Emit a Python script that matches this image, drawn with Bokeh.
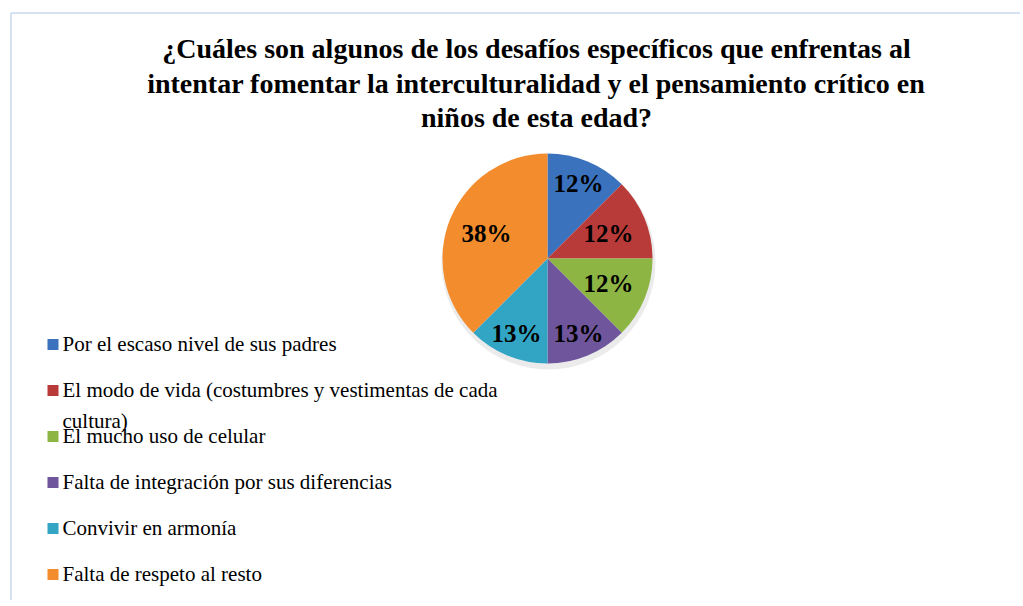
import math
from bokeh.plotting import figure
from bokeh.models import Range1d
from bokeh.core.properties import value
from bokeh.embed import file_html
from bokeh.resources import INLINE

# ---- data ----
categories = [
    "Por el escaso nivel de sus padres",
    "El modo de vida (costumbres y vestimentas de cada\ncultura)",
    "El mucho uso de celular",
    "Falta de integración por sus diferencias",
    "Convivir en armonía",
    "Falta de respeto al resto",
]
counts = [1, 1, 1, 1, 1, 3]
pct_labels = ["12%", "12%", "12%", "13%", "13%", "38%"]
colors = ["#3a72bd", "#b93b39", "#8db544", "#6e559c", "#32a5c4", "#f38c2c"]
title_lines = [
    "¿Cuáles son algunos de los desafíos específicos que enfrentas al",
    "intentar fomentar la interculturalidad y el pensamiento crítico en",
    "niños de esta edad?",
]

W, H = 1020, 600
OFF = 0  # observed page offset of the figure
SERIF = value("'Liberation Serif', 'Times New Roman', Times, serif")


def fy(page_y):
    """page pixel y -> data y"""
    return H - (page_y - OFF)


def fx(page_x):
    return page_x - OFF


p = figure(width=W, height=H, output_backend="svg", toolbar_location=None,
           x_range=Range1d(0, W), y_range=Range1d(0, H), min_border=0)
p.axis.visible = False
p.grid.visible = False
p.outline_line_color = None
p.background_fill_color = "white"
p.border_fill_color = "white"

# chart area border (top and left edges visible)
p.line([fx(10.5), fx(10.5)], [fy(12.5), 0], line_color="#c6d9f1", line_width=1.5)
p.line([fx(10.5), W], [fy(12.5), fy(12.5)], line_color="#c6d9f1", line_width=1.5)

# title
p.text(x=[fx(536)] * 3, y=[fy(48), fy(83), fy(117)], text=title_lines,
       text_font=SERIF, text_font_style="bold", text_font_size="28px",
       text_align="center", text_baseline="middle", text_color="#000000")

# pie
cx, cy, R = fx(547), fy(258), 105
total = sum(counts)
starts, ends, lx, ly = [], [], [], []
cum = 0
for c in counts:
    a0 = math.pi / 2 - 2 * math.pi * cum / total
    cum += c
    a1 = math.pi / 2 - 2 * math.pi * cum / total
    starts.append(a1)
    ends.append(a0)
    mid = (a0 + a1) / 2
    r = R * (0.60 + 0.20 * math.sin(mid) ** 2)
    lx.append(cx + r * math.cos(mid))
    ly.append(cy + r * math.sin(mid))

# soft shadow
p.circle(x=[cx + 1], y=[cy - 4], radius=R + 2, fill_color="#000000",
         fill_alpha=0.08, line_color=None)
p.wedge(x=cx, y=cy, radius=R, start_angle=starts, end_angle=ends,
        direction="anticlock", fill_color=colors, line_color=None)
p.text(x=lx, y=ly, text=pct_labels, text_font=SERIF, text_font_style="bold",
       text_font_size="25px", text_align="center", text_baseline="middle",
       text_color="#000000")

# legend
row_y = [344, 390, 436, 482, 528, 574]
p.rect(x=[fx(52.5)] * 6, y=[fy(v) for v in row_y], width=11, height=11,
       fill_color=colors, line_color=None)
p.text(x=[fx(62)] * 6, y=[fy(v - 12.5) for v in row_y], text=categories,
       text_font=SERIF, text_font_size="21px", text_align="left",
       text_baseline="top", text_line_height=1.28, text_color="#000000")

open("out.html", "w").write(file_html(p, INLINE))
